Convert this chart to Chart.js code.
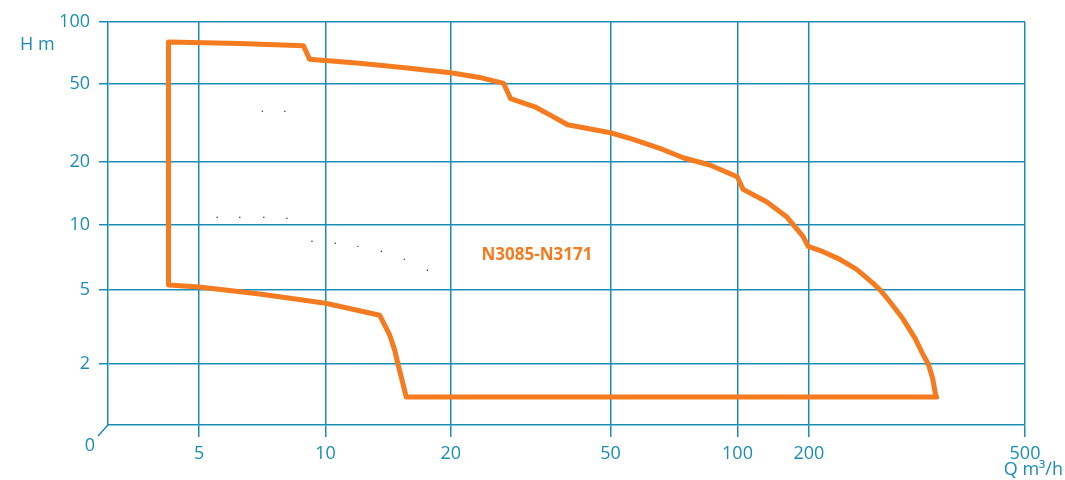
<!DOCTYPE html>
<html>
<head>
<meta charset="utf-8">
<script src="https://cdn.jsdelivr.net/npm/chart.js@4.4.1/dist/chart.umd.min.js"></script>
<style>
  html, body { margin: 0; padding: 0; background: #fff; }
  #wrap { width: 1065px; height: 480px; }
</style>
</head>
<body>
<div id="wrap"><canvas id="pumpChart" width="1065" height="480"></canvas></div>
<script>
// Datos de la curva (Q en m3/h, H en m)
const curveQ = [4.23, 6.24, 8.86, 9.16, 12.07, 15.5, 20, 23.6, 27.1, 28.2, 32.4, 35.3, 39.1,
  50, 56.6, 65.4, 74.3, 86.0, 99.8, 105.6, 132.6, 161.0, 189.2, 198.6, 212.5, 228.1, 244.9,
  262.7, 270.3, 282.0, 298.4, 313.6, 324.8, 331.8, 338.0, 342.3, 343.8,
  15.64, 14.93, 14.66, 14.26, 13.49, 12.07, 10, 6.97, 5, 4.23, 4.23];
const curveH = [80, 78.6, 76.7, 65.9, 63.0, 59.9, 56.7, 53.8, 50.3, 42.0, 38.2, 34.7, 30.9,
  28.1, 26.0, 23.38, 20.92, 19.25, 16.93, 14.74, 12.87, 10.92, 8.80, 7.93, 7.50, 6.91, 6.21,
  5.35, 5.0, 4.31, 3.47, 2.75, 2.235, 2.0, 1.677, 1.365, 1.33,
  1.33, 2.0, 2.38, 2.86, 3.65, 3.86, 4.23, 4.74, 5.15, 5.26, 80];

// puntitos sueltos que aparecen dentro del area
const dotQ = [5.52, 6.25, 7.13, 8.09, 9.28, 10.55, 11.96, 13.62, 15.47, 17.58, 7.07, 8.0];
const dotH = [10.85, 10.85, 10.85, 10.73, 8.38, 8.2, 7.94, 7.53, 6.91, 6.15, 36.2, 36.2];

// Etiquetas de los ejes (escala no uniforme del dibujo original)
const xTicks = [5, 10, 20, 50, 100, 200, 500];
const xTickPos = [0.0993, 0.2373, 0.3737, 0.548, 0.6865, 0.7643, 1.0];
const yTicks = [2, 5, 10, 20, 50, 100];
const yTickPos = [0.1514, 0.3357, 0.497, 0.6538, 0.8462, 1.0];

const curveLabel = 'N3085-N3171';
const labelQ = 32.8;
const labelH = 7.24;

const teal = '#1b8db5';
const orange = '#f47b20';

// interpolacion logaritmica por tramos entre las marcas del eje
function toAxis(v, vals, pos) {
    let i = 0;
    while (i < vals.length - 2 && v > vals[i + 1]) i++;
    const t = Math.log(v / vals[i]) / Math.log(vals[i + 1] / vals[i]);
    return pos[i] + t * (pos[i + 1] - pos[i]);
}
const xAxis = q => toAxis(q, xTicks, xTickPos);
const yAxis = h => toAxis(h, yTicks, yTickPos);

const extras = {
    id: 'extras',
    afterDraw(chart) {
        const ctx = chart.ctx;
        const a = chart.chartArea;
        const xs = chart.scales.x, ys = chart.scales.y;
        ctx.save();
        // origen
        ctx.strokeStyle = teal;
        ctx.lineWidth = 1.5;
        ctx.beginPath();
        ctx.moveTo(a.left, a.bottom);
        ctx.lineTo(a.left - 10, a.bottom + 11);
        ctx.stroke();
        ctx.fillStyle = teal;
        ctx.font = '18px "Open Sans"';
        ctx.textAlign = 'center';
        ctx.textBaseline = 'middle';
        ctx.fillText('0', a.left - 18, a.bottom + 21);
        ctx.textAlign = 'left';
        ctx.fillText('H m', 20, 45);
        ctx.textAlign = 'right';
        ctx.fillText('Q m\u00b3/h', 1063, 470);
        // nombre de la curva
        ctx.fillStyle = orange;
        ctx.font = 'bold 17px "Open Sans"';
        ctx.textAlign = 'center';
        ctx.fillText(curveLabel, xs.getPixelForValue(xAxis(labelQ)), ys.getPixelForValue(yAxis(labelH)));
        ctx.restore();
    }
};

const ctx = document.getElementById('pumpChart').getContext('2d');
const pumpChart = new Chart(ctx, {
    type: 'scatter',
    data: {
        datasets: [{
            data: curveQ.map((q, i) => ({ x: xAxis(q), y: yAxis(curveH[i]) })),
            showLine: true,
            borderColor: orange,
            borderWidth: 5,
            borderJoinStyle: 'round',
            borderCapStyle: 'round',
            pointRadius: 0,
            tension: 0,
            fill: false
        }, {
            data: dotQ.map((q, i) => ({ x: xAxis(q), y: yAxis(dotH[i]) })),
            backgroundColor: '#222',
            borderWidth: 0,
            pointRadius: 0.7
        }]
    },
    options: {
        responsive: false,
        animation: false,
        layout: { padding: { left: 0, top: 22, right: 40, bottom: 0 } },
        plugins: { legend: { display: false }, tooltip: { enabled: false } },
        scales: {
            x: {
                type: 'linear',
                min: 0,
                max: 1,
                afterBuildTicks: s => { s.ticks = xTickPos.map(v => ({ value: v })); },
                afterFit: s => { s.height = 55; },
                ticks: {
                    callback: (v, i) => xTicks[i],
                    color: teal,
                    font: { family: 'Open Sans', size: 18 },
                    padding: 6,
                    maxRotation: 0,
                    autoSkip: false
                },
                grid: { color: teal, lineWidth: 1.5, tickLength: 12 },
                border: { color: teal, width: 1.5 }
            },
            y: {
                type: 'linear',
                min: 0,
                max: 1,
                afterBuildTicks: s => { s.ticks = yTickPos.map(v => ({ value: v })); },
                afterFit: s => { s.width = 108; },
                ticks: {
                    callback: (v, i) => yTicks[i],
                    color: teal,
                    font: { family: 'Open Sans', size: 18 },
                    padding: 9,
                    autoSkip: false
                },
                grid: { color: teal, lineWidth: 1.5, tickLength: 9 },
                border: { color: teal, width: 1.5 }
            }
        }
    },
    plugins: [extras]
});
</script>
</body>
</html>
